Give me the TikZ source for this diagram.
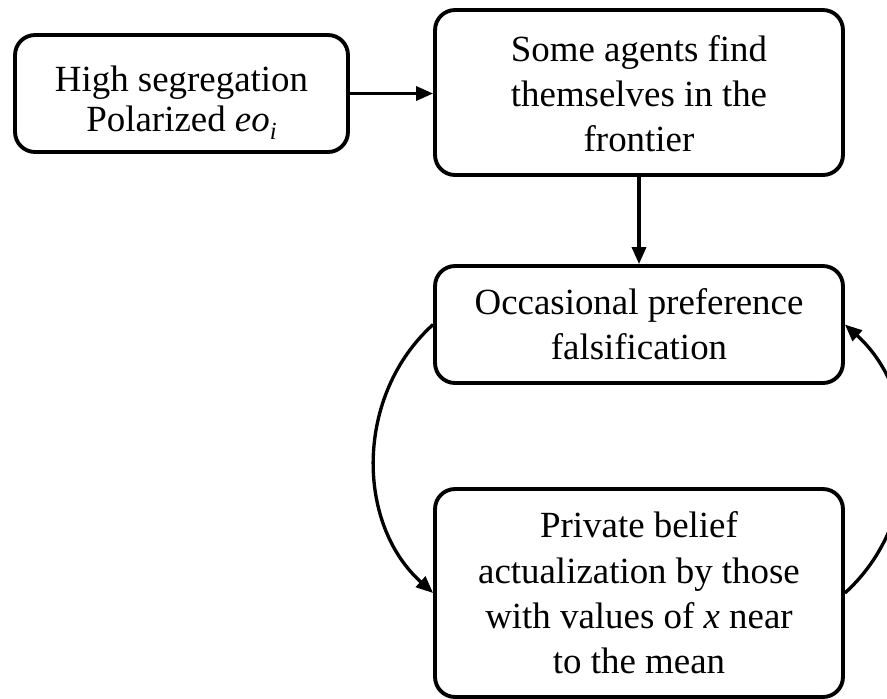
\documentclass[tikz,border=0pt]{standalone}
\usepackage{fontspec}
\setmainfont{Liberation Serif}
\usetikzlibrary{arrows.meta,positioning}

\begin{document}
\begin{tikzpicture}[x=0.02cm,y=-0.02cm,>={Triangle[length=3.4mm,width=2.8mm]},
  bx/.style={draw,line width=2.2pt,rounded corners=4mm,align=center,inner sep=0pt,
    font=\fontsize{21}{25.8}\selectfont},
  fl/.style={->,line width=1.9pt}]
  \useasboundingbox (0,0) rectangle (887,698);
  \node[bx,minimum width=6.66cm,minimum height=2.34cm,font=\fontsize{21}{22.8}\selectfont] (seg) at (181.5,93.5)
    {\raisebox{-0.2cm}[\height][\depth]{\begin{tabular}{@{}c@{}}High segregation\\
      Polarized \textit{eo}\raisebox{-0.45ex}{\fontsize{14}{14}\selectfont\textit{i}}\end{tabular}}};
  \node[bx,minimum width=8.16cm,minimum height=3.3cm] (front) at (639,92.5)
    {\raisebox{-0.1cm}[\height][\depth]{\begin{tabular}{@{}c@{}}Some agents find\\
      themselves in the\\frontier\end{tabular}}};
  \node[bx,minimum width=8.16cm,minimum height=2.34cm] (fals) at (639,324.5)
    {Occasional preference\\falsification};
  \node[bx,minimum width=8.16cm,minimum height=4.16cm] (act) at (639,593)
    {Private belief\\actualization by those\\with values of \textit{x} near\\to the mean};
  \draw[fl] (seg.east) -- (seg.east -| front.west);
  \draw[fl] (front) -- (fals);
  \draw[fl] (fals.west) to[bend right=48] (act.west);
  \draw[fl] (act.east) to[bend right=48] (fals.east);
\end{tikzpicture}
\end{document}
